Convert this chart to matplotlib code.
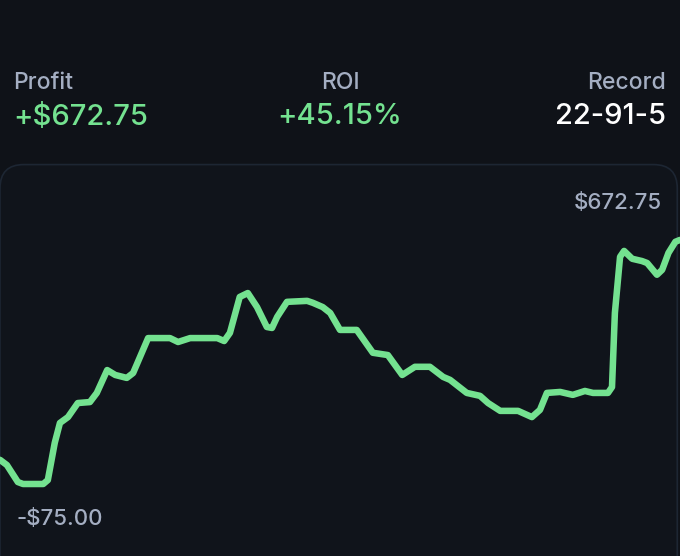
import matplotlib
matplotlib.use("Agg")
import matplotlib.pyplot as plt
from matplotlib.patches import FancyBboxPatch

plt.rcParams['font.family'] = ['Inter', 'DejaVu Sans']

# running profit over the bets (bet number, profit in $)
bets = [0, 1.2, 3.1, 4.0, 7.5, 8.3, 9.5, 10.4, 11.8, 13.5, 15.6, 16.8, 18.6, 20.0,
        22.0, 23.1, 25.7, 29.5, 30.9, 33.0, 37.7, 38.9, 39.9, 41.6, 43.0, 44.6,
        46.3, 47.2, 48.1, 49.8, 53.3, 54.3, 56.0, 57.3, 59.0, 61.9, 64.7, 67.3,
        69.8, 72.0, 74.6, 76.9, 78.1, 81.0, 83.3, 84.7, 86.8, 89.9, 92.3, 93.7,
        94.9, 97.2, 99.4, 101.5, 102.9, 105.5, 106.2, 106.7, 107.6, 108.3, 109.7,
        111.4, 112.3, 114.0, 114.9, 116.0, 117.2, 118]
profit = [-1, -17, -69, -75, -75, -63, 51, 112, 130, 173, 176, 204, 274, 259,
          250, 265, 372, 372, 360, 372, 372, 363, 388, 498, 510, 467,
          406, 403, 437, 483, 486, 480, 467, 449, 397, 397, 327, 320,
          259, 284, 284, 253, 244, 204, 195, 173, 149, 149, 130, 152,
          204, 207, 198, 210, 204, 204, 222, 449, 621, 639, 615,
          608, 602, 566, 581, 633, 667, 672.75]

stats_labels = ["Profit", "ROI", "Record"]
stats_values = ["+$672.75", "+45.15%", "22-91-5"]

bg = "#0f1218"
card_bg = "#10141b"
green = "#74e290"
grey = "#a4aec2"

fig = plt.figure(figsize=(6.8, 5.56), dpi=100)
fig.set_facecolor(bg)

# card behind the chart
card = FancyBboxPatch((0.0, -0.05), 0.996, 0.754, boxstyle="round,pad=0,rounding_size=0.035",
                      transform=fig.transFigure, facecolor=card_bg, edgecolor="#1d2633",
                      linewidth=1.2, mutation_aspect=6.8 / 5.56, zorder=-5)
fig.patches.append(card)

# header stats
xs = [13 / 680, 340 / 680, 666 / 680]
aligns = ["left", "center", "right"]
val_colors = [green, green, "#ffffff"]
for x, ha, lab, val, c in zip(xs, aligns, stats_labels, stats_values, val_colors):
    fig.text(x, 1 - 83 / 556, lab, ha=ha, va="center", fontsize=16.5, color=grey,
             fontweight="medium")
    fig.text(x, 1 - 117 / 556, val, ha=ha, va="center", fontsize=21, color=c,
             fontweight="medium")

ax = fig.add_axes([0, 0, 1, (556 - 164) / 556])
ax.set_facecolor("none")
ax.plot(bets, profit, color=green, linewidth=4.7, solid_joinstyle="round",
        solid_capstyle="round")
lo, hi = min(profit), max(profit)
rng = hi - lo
ax.set_ylim(lo - 0.295 * rng, hi + 0.311 * rng)
ax.set_xlim(bets[0], bets[-1])
ax.axis("off")

ax.text(662 / 680, 1 - (203 - 164) / 392, f"${hi:,.2f}", transform=ax.transAxes,
        ha="right", va="center", fontsize=16, color=grey, fontweight="medium")
ax.text(17 / 680, 1 - (519 - 164) / 392, f"-${-lo:,.2f}", transform=ax.transAxes,
        ha="left", va="center", fontsize=16, color=grey, fontweight="medium")

fig.savefig("out.png", dpi=100, facecolor=bg)
